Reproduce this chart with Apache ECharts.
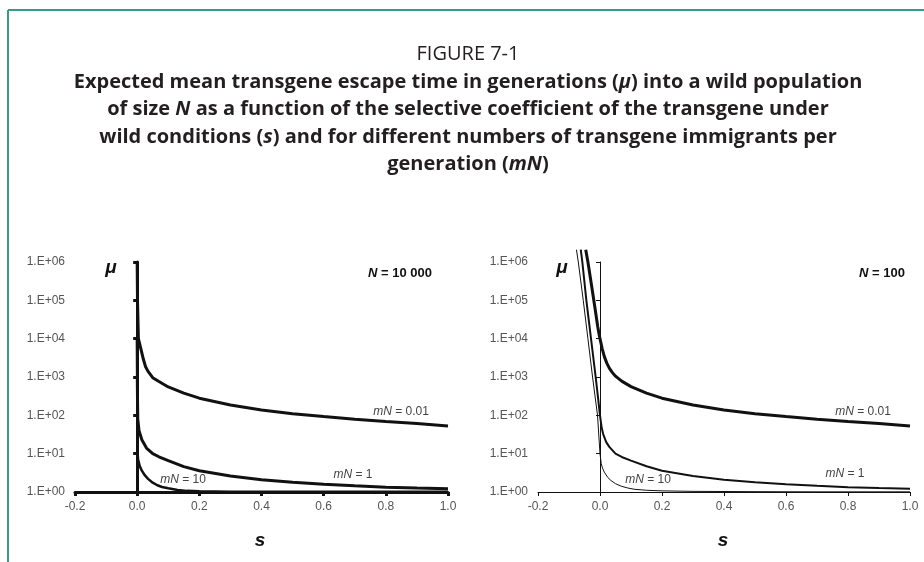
<!DOCTYPE html>
<html>
<head>
<meta charset="utf-8">
<script src="https://cdn.jsdelivr.net/npm/echarts@6/dist/echarts.min.js"></script>
<style>
html, body { margin: 0; padding: 0; background: #fff; }
#chart { width: 924px; height: 562px; }
</style>
</head>
<body>
<div id="chart"></div>
<script>
// s (selective coefficient) and mu (mean escape time)
// left panel, N = 10 000
var n10000_mN001 = [[0, 1e6], [0.001, 1e5], [0.004, 1e4], [0.01, 6300], [0.02, 2900], [0.027, 1850], [0.035, 1400],
    [0.05, 960], [0.07, 760], [0.1, 550], [0.15, 380], [0.2, 280], [0.3, 186], [0.4, 138], [0.5, 110],
    [0.6, 93], [0.7, 79], [0.8, 69], [0.9, 61], [1.0, 53]];
var n10000_mN1 = [[0, 1e4], [0.001, 300], [0.002, 80], [0.006, 40], [0.015, 23], [0.03, 14], [0.05, 10],
    [0.07, 8.3], [0.1, 6.6], [0.15, 4.6], [0.2, 3.6], [0.3, 2.6], [0.4, 2.1], [0.5, 1.8], [0.6, 1.6],
    [0.7, 1.45], [0.8, 1.34], [0.9, 1.27], [1.0, 1.22]];
var n10000_mN10 = [[0, 1000], [0.001, 12], [0.003, 7], [0.008, 4.8], [0.015, 3.6], [0.025, 2.7], [0.035, 2.2],
    [0.05, 1.75], [0.065, 1.5], [0.08, 1.35], [0.1, 1.25], [0.13, 1.13], [0.16, 1.07], [0.2, 1.04],
    [0.3, 1.02], [0.5, 1.01], [1.0, 1.01]];

// right panel, N = 100
var n100_mN001 = [[-0.046, 2.1e6], [-0.039, 1e6], [-0.026, 2.1e5], [-0.015, 5.4e4], [-0.0075, 2.1e4],
    [-0.003, 1.3e4], [0, 1e4], [0.007, 5500], [0.014, 3400], [0.022, 2300], [0.03, 1700], [0.04, 1300],
    [0.05, 1050], [0.07, 780], [0.1, 560], [0.15, 380], [0.2, 280], [0.3, 186], [0.4, 138], [0.5, 110],
    [0.6, 93], [0.7, 79], [0.8, 69], [0.9, 61], [1.0, 53]];
var n100_mN1 = [[-0.062, 2.1e6], [-0.057, 1e6], [-0.044, 1e5], [-0.029, 1e4], [-0.014, 1000], [-0.007, 320],
    [0, 100], [0.005, 50], [0.01, 33], [0.02, 20], [0.03, 15], [0.05, 10], [0.07, 8.2], [0.1, 6.6],
    [0.15, 4.7], [0.2, 3.6], [0.3, 2.6], [0.4, 2.1], [0.5, 1.8], [0.6, 1.6], [0.7, 1.45], [0.8, 1.34],
    [0.9, 1.27], [1.0, 1.22]];
var n100_mN10 = [[-0.076, 2.1e6], [-0.07, 1e6], [-0.054, 1e5], [-0.039, 1e4], [-0.024, 1000], [-0.008, 100],
    [0, 10], [0.004, 5.5], [0.008, 4.2], [0.014, 3.3], [0.025, 2.4], [0.035, 2.0], [0.05, 1.65],
    [0.068, 1.42], [0.09, 1.27], [0.11, 1.18], [0.15, 1.11], [0.2, 1.07], [0.3, 1.04], [0.5, 1.02],
    [0.7, 1.01], [1.0, 1.01]];

var sTicks = [-0.2, 1.0, 0.2];     // min, max, step of s
var muRange = [1, 1e6];

var chart = echarts.init(document.getElementById('chart'));
var tickFont = 'Liberation Sans';
var ink = '#111';

function xAxis(grid, w) {
    return {
        type: 'value', gridIndex: grid, min: sTicks[0], max: sTicks[1], interval: sTicks[2],
        axisLine: { onZero: false, lineStyle: { color: ink, width: w } },
        axisTick: { length: 4, lineStyle: { color: ink, width: w } },
        axisLabel: {
            margin: 9, color: '#555', fontSize: 12, fontFamily: tickFont,
            formatter: function (v) { return Math.abs(v) < 1e-9 ? '0.0' : v.toFixed(1); }
        },
        splitLine: { show: false }
    };
}
function yLabels(grid) {
    return {
        type: 'log', logBase: 10, gridIndex: grid, min: muRange[0], max: muRange[1], position: 'left',
        axisLine: { show: false, onZero: false }, axisTick: { show: false }, splitLine: { show: false },
        axisLabel: {
            margin: 10, color: '#555', fontSize: 12, fontFamily: tickFont,
            formatter: function (v) {
                var e = Math.round(Math.log10(v));
                return '1.E+' + (e < 10 ? '0' : '') + e;
            }
        }
    };
}
function yLine(grid, w) {
    return {
        type: 'log', logBase: 10, gridIndex: grid, min: muRange[0], max: muRange[1], position: 'left',
        axisLine: { onZero: true, lineStyle: { color: ink, width: w } },
        axisTick: { length: 4, lineStyle: { color: ink, width: w } },
        axisLabel: { show: false }, splitLine: { show: false }
    };
}
function curve(data, grid, w) {
    return {
        type: 'line', xAxisIndex: grid, yAxisIndex: grid * 2, data: data, symbol: 'none',
        clip: false, silent: true, lineStyle: { color: ink, width: w }
    };
}

function plain(txt, x, y, size, extra) {
    return { type: 'text', x: x, y: y, style: Object.assign({
        text: txt, fill: '#444', fontSize: size, fontFamily: tickFont, align: 'center', verticalAlign: 'middle'
    }, extra || {}) };
}
function mnLabel(val, x, y) {
    return {
        type: 'text', x: x, y: y,
        style: {
            text: '{i|mN}{r| = ' + val + '}', align: 'center', verticalAlign: 'middle',
            rich: {
                i: { fontStyle: 'italic', fontSize: 12, fontFamily: tickFont, fill: '#444' },
                r: { fontSize: 12, fontFamily: tickFont, fill: '#444' }
            }
        }
    };
}
function nLabel(val, x, y) {
    return {
        type: 'text', x: x, y: y,
        style: {
            text: '{i|N}{r| = ' + val + '}', align: 'right', verticalAlign: 'middle',
            rich: {
                i: { fontStyle: 'italic', fontWeight: 'bold', fontSize: 13, fontFamily: tickFont, fill: '#111' },
                r: { fontWeight: 'bold', fontSize: 13, fontFamily: tickFont, fill: '#111' }
            }
        }
    };
}

var titleText = [
    '{f|FIGURE 7-1}',
    '{b|Expected mean transgene escape time in generations (}{bi|μ}{b|) into a wild population}',
    '{b|of size }{bi|N}{b| as a function of the selective coefficient of the transgene under}',
    '{b|wild conditions (}{bi|s}{b|) and for different numbers of transgene immigrants per}',
    '{b|generation (}{bi|mN}{b|)}'
].join('\n');

var axisName = { fontStyle: 'italic', fontWeight: 'bold', fill: '#111', fontFamily: tickFont };
var titleFont = 'Open Sans';

var option = {
    animation: false,
    grid: [
        { left: 75, top: 262, width: 373, height: 230 },
        { left: 538, top: 262, width: 372, height: 230 }
    ],
    xAxis: [xAxis(0, 3), xAxis(1, 1)],
    yAxis: [yLabels(0), yLine(0, 3), yLabels(1), yLine(1, 1)],
    series: [
        curve(n10000_mN001, 0, 3),
        curve(n10000_mN1, 0, 3),
        curve(n10000_mN10, 0, 2.5),
        curve(n100_mN001, 1, 3),
        curve(n100_mN1, 1, 2),
        curve(n100_mN10, 1, 1)
    ],
    graphic: [
        { type: 'line', shape: { x1: 8, y1: 10, x2: 924, y2: 10 }, style: { stroke: '#3a9988', lineWidth: 2 } },
        { type: 'line', shape: { x1: 8, y1: 10, x2: 8, y2: 562 }, style: { stroke: '#3a9988', lineWidth: 2 } },
        {
            type: 'text', x: 468, y: 41,
            style: {
                text: titleText, align: 'center', verticalAlign: 'top',
                rich: {
                    f: { fontFamily: titleFont, fontSize: 20, fill: '#231f20', lineHeight: 27.5 },
                    b: { fontFamily: titleFont, fontWeight: 'bold', fontSize: 20, fill: '#231f20', lineHeight: 27.5 },
                    bi: { fontFamily: titleFont, fontWeight: 'bold', fontStyle: 'italic', fontSize: 20, fill: '#231f20', lineHeight: 27.5 }
                }
            }
        },
        plain('μ', 111, 268, 19, axisName),
        plain('μ', 562, 268, 19, axisName),
        plain('s', 260, 541, 19, axisName),
        plain('s', 723, 541, 19, axisName),
        nLabel('10 000', 432, 273),
        nLabel('100', 905, 273),
        mnLabel('0.01', 401, 412),
        mnLabel('1', 353, 475),
        mnLabel('10', 183, 480),
        mnLabel('0.01', 863, 412),
        mnLabel('1', 845, 474),
        mnLabel('10', 648, 480)
    ]
};
chart.setOption(option);
</script>
</body>
</html>
